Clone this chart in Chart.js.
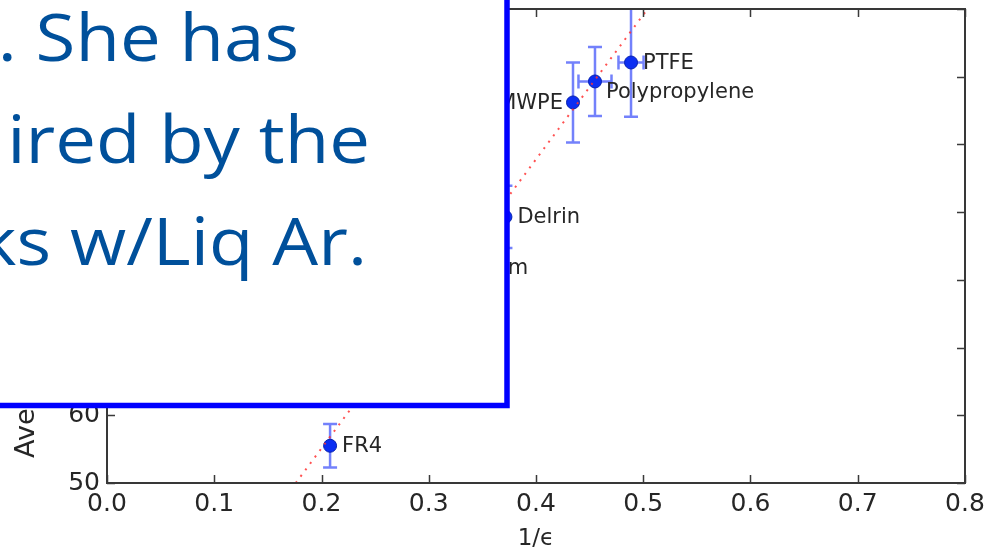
<!DOCTYPE html>
<html><head><meta charset="utf-8">
<script src="https://cdn.jsdelivr.net/npm/chart.js@4.4.1/dist/chart.umd.min.js"></script>
<style>html,body{margin:0;padding:0;background:#fff;overflow:hidden}</style>
</head><body>
<canvas id="c" width="1002" height="552"></canvas>
<script>
// ---- data ----
const materials   = ['FR4', 'Ultem', 'Delrin', 'UHMWPE', 'Polypropylene', 'PTFE'];
const invEps      = [0.208, 0.323, 0.3715, 0.4345, 0.455, 0.4886];
const avgValue    = [55.5, 81.8, 89.3, 106.2, 109.3, 112.1];
const invEpsErr   = [0, 0, 0, 0, 0.0154, 0.0117];
const avgValueErr = [3.2, 4.0, 4.6, 5.9, 5.1, 8.0];
const fitX = [0.176, 0.504];
const fitY = [50, 120];
const xTicks = [0.0, 0.1, 0.2, 0.3, 0.4, 0.5, 0.6, 0.7, 0.8];
const yTicks = [50, 60, 70, 80, 90, 100, 110, 120];
const xTitle = '1/\u03F5';
const yTitle = 'Average Signal Amplitude (mV)';
const overlayLines = ['. She has', 'ired by the', 'ks w/Liq Ar.'];

// ---- styling ----
const FONT = "'DejaVu Sans', sans-serif";
const TXT = '#262626';
const labelPlacement = {
  'UHMWPE': {dx: -10, dy: 1, align: 'right'},
  'Polypropylene': {dx: 11, dy: 11, align: 'left'},
  'Delrin': {dx: 12, dy: 1, align: 'left'}
};

const errorBars = {
  id: 'errorBars',
  beforeDatasetsDraw(chart) {
    const {ctx, chartArea: a, scales: {x, y}} = chart;
    ctx.save();
    ctx.beginPath(); ctx.rect(a.left, a.top, a.right - a.left, a.bottom - a.top); ctx.clip();
    ctx.strokeStyle = 'rgba(55,75,250,0.7)';
    ctx.lineWidth = 2.5;
    const cap = 7;
    invEps.forEach((xv, i) => {
      const px = x.getPixelForValue(xv), py = y.getPixelForValue(avgValue[i]);
      if (avgValueErr[i] > 0) {
        const t = y.getPixelForValue(avgValue[i] + avgValueErr[i]);
        const b = y.getPixelForValue(avgValue[i] - avgValueErr[i]);
        ctx.beginPath();
        ctx.moveTo(px, t); ctx.lineTo(px, b);
        ctx.moveTo(px - cap, t); ctx.lineTo(px + cap, t);
        ctx.moveTo(px - cap, b); ctx.lineTo(px + cap, b);
        ctx.stroke();
      }
      if (invEpsErr[i] > 0) {
        const l = x.getPixelForValue(xv - invEpsErr[i]);
        const r = x.getPixelForValue(xv + invEpsErr[i]);
        ctx.beginPath();
        ctx.moveTo(l, py); ctx.lineTo(r, py);
        ctx.moveTo(l, py - cap); ctx.lineTo(l, py + cap);
        ctx.moveTo(r, py - cap); ctx.lineTo(r, py + cap);
        ctx.stroke();
      }
    });
    ctx.restore();
  }
};

const pointLabels = {
  id: 'pointLabels',
  afterDatasetsDraw(chart) {
    const {ctx, scales: {x, y}} = chart;
    ctx.save();
    ctx.font = '21px ' + FONT;
    ctx.fillStyle = TXT;
    ctx.textBaseline = 'middle';
    materials.forEach((m, i) => {
      const p = labelPlacement[m] || {dx: 12, dy: 1, align: 'left'};
      ctx.textAlign = p.align;
      ctx.fillText(m, x.getPixelForValue(invEps[i]) + p.dx, y.getPixelForValue(avgValue[i]) + p.dy);
    });
    ctx.restore();
  }
};

const frameTicks = {
  id: 'frameTicks',
  afterDraw(chart) {
    const {ctx, chartArea: a, scales: {x, y}} = chart;
    ctx.save();
    ctx.strokeStyle = '#3a3a3a';
    ctx.lineWidth = 1.5;
    const L = 8;
    ctx.beginPath();
    xTicks.forEach(v => {
      const px = Math.round(x.getPixelForValue(v)) + 0.5;
      ctx.moveTo(px, a.bottom); ctx.lineTo(px, a.bottom - L);
      ctx.moveTo(px, a.top); ctx.lineTo(px, a.top + L);
    });
    yTicks.forEach(v => {
      const py = Math.round(y.getPixelForValue(v)) + 0.5;
      ctx.moveTo(a.left, py); ctx.lineTo(a.left + L, py);
      ctx.moveTo(a.right, py); ctx.lineTo(a.right - L, py);
    });
    ctx.stroke();
    ctx.lineWidth = 2;
    ctx.strokeStyle = '#383838';
    ctx.strokeRect(a.left, a.top, a.right - a.left, a.bottom - a.top);
    ctx.restore();
  }
};

const overlayBox = {
  id: 'overlayBox',
  afterDraw(chart) {
    const {ctx} = chart;
    ctx.save();
    ctx.fillStyle = '#ffffff';
    ctx.fillRect(0, 0, 507, 406);
    ctx.strokeStyle = '#0000ff';
    ctx.lineWidth = 5.5;
    ctx.beginPath();
    ctx.moveTo(507, -5); ctx.lineTo(507, 405.5); ctx.lineTo(-5, 405.5);
    ctx.stroke();
    ctx.fillStyle = '#00509b';
    ctx.font = "66px 'Open Sans', 'Noto Sans', sans-serif";
    ctx.textAlign = 'right';
    ctx.textBaseline = 'alphabetic';
    const sx = 1.1;
    ctx.scale(sx, 1);
    const rights = [299, 370, 367];
    const bases = [61, 163, 265];
    overlayLines.forEach((t, i) => ctx.fillText(t, rights[i] / sx, bases[i]));
    ctx.restore();
  }
};

new Chart(document.getElementById('c').getContext('2d'), {
  type: 'scatter',
  data: {
    datasets: [
      {
        type: 'line',
        data: fitX.map((v, i) => ({x: v, y: fitY[i]})),
        borderColor: 'rgba(255,50,50,0.85)',
        borderWidth: 2,
        borderDash: [2, 6],
        pointRadius: 0,
        fill: false,
        tension: 0
      },
      {
        data: invEps.map((v, i) => ({x: v, y: avgValue[i]})),
        backgroundColor: '#0b2ef2',
        borderColor: '#0620b0',
        borderWidth: 1,
        pointRadius: 6.5,
        pointHoverRadius: 6.5
      }
    ]
  },
  options: {
    responsive: false,
    animation: false,
    devicePixelRatio: 1,
    events: [],
    layout: {padding: {left: 0, right: 37, top: 9, bottom: 0}},
    plugins: {legend: {display: false}, tooltip: {enabled: false}},
    scales: {
      x: {
        type: 'linear', min: 0, max: 0.8,
        afterBuildTicks: s => { s.ticks = xTicks.map(v => ({value: v})); },
        ticks: {padding: 6, color: TXT, font: {family: FONT, size: 25}, maxRotation: 0, autoSkip: false,
                callback: v => Number(v).toFixed(1)},
        grid: {display: false, drawTicks: false},
        border: {display: false},
        title: {display: true, text: xTitle, color: TXT, font: {family: FONT, size: 23, lineHeight: 1},
                padding: {top: 0, bottom: 1}},
        afterFit: s => { s.height = 69; s.paddingLeft = 0; s.paddingRight = 0; }
      },
      y: {
        type: 'linear', min: 50, max: 120,
        afterBuildTicks: s => { s.ticks = yTicks.map(v => ({value: v})); },
        ticks: {padding: 7, color: TXT, font: {family: FONT, size: 25}, autoSkip: false,
                callback: v => String(v)},
        grid: {display: false, drawTicks: false},
        border: {display: false},
        title: {display: true, text: yTitle, color: TXT, font: {family: FONT, size: 27, lineHeight: 1},
                padding: {top: 13, bottom: 0}},
        afterFit: s => { s.width = 107; s.paddingTop = 0; s.paddingBottom = 0; }
      }
    }
  },
  plugins: [errorBars, pointLabels, frameTicks, overlayBox]
});
</script>
</body></html>
